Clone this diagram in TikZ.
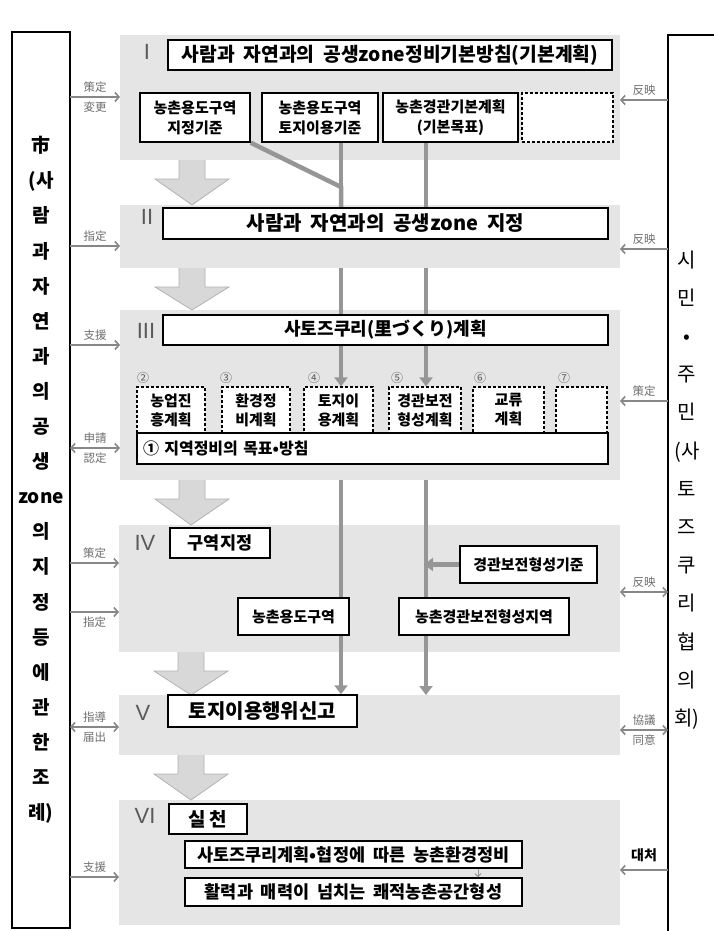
\documentclass[tikz,border=0pt]{standalone}
\usepackage{fontspec}
\setmainfont{Noto Sans CJK KR}
\newfontfamily\jpfont{Noto Sans CJK JP}
\newfontfamily\latfont{Liberation Sans}
\usetikzlibrary{arrows.meta,calc}
\pgfdeclarelayer{bg}
\pgfdeclarelayer{mid}
\pgfsetlayers{bg,mid,main}
\definecolor{panelgray}{RGB}{229,229,229}
\definecolor{conngray}{RGB}{150,150,150}
\definecolor{bafill}{RGB}{216,216,216}
\definecolor{baedge}{RGB}{178,178,178}
\definecolor{sidegray}{RGB}{135,135,135}
\definecolor{lblgray}{RGB}{110,110,110}
\definecolor{numgray}{RGB}{90,90,90}
\tikzset{
  panelbox/.style={fill=panelgray, draw=none, inner sep=0pt, outer sep=0pt, anchor=north west},
  solidbox/.style={draw=black, line width=1.5pt, fill=white, inner sep=0pt, align=center, font=\bfseries\fontsize{15}{20}\selectfont},
  titlebox/.style={solidbox, font=\bfseries\fontsize{20}{22}\selectfont},
  dashbox/.style={draw=black, line width=1.2pt, dash pattern=on 3pt off 2pt, fill=white, inner sep=0pt, align=center, font=\bfseries\fontsize{15}{19}\selectfont},
  outerbox/.style={draw=black, line width=2pt, fill=white, inner sep=0pt, outer sep=0pt, anchor=north west},
  roman/.style={font=\latfont\fontsize{22}{22}\selectfont, text=numgray, inner sep=0pt},
  circnum/.style={font=\fontsize{12}{12}\selectfont, text=numgray, inner sep=0pt},
  connline/.style={draw=conngray, line width=4.5pt},
  connarrow/.style={connline, -{Triangle[length=9pt, width=13pt]}},
  blockarr/.style={fill=bafill, draw=baedge, line width=0.8pt},
  sidearr/.style={draw=sidegray, line width=1.6pt, -{Straight Barb[length=4pt,width=9pt]}},
  sidearrtwo/.style={draw=sidegray, line width=1.6pt, {Straight Barb[length=4pt,width=9pt]}-{Straight Barb[length=4pt,width=9pt]}},
  smallarr/.style={draw=conngray, line width=1pt, -{Straight Barb[length=3pt,width=6pt]}},
  jplbl/.style={font=\jpfont\fontsize{11.5}{12}\selectfont, text=lblgray, inner sep=2pt},
}
\newcommand\mkblockarrow[2]{%
  \path (#1.south west) ++(59,0) coordinate (ba) (#2.north west) ++(72,0) coordinate (bt);
  \filldraw[blockarr] (ba) -- ($(ba)+(0,19)$) -- ($(ba)+(-24,19)$) -- (bt) -- ($(ba)+(50,19)$) -- ($(ba)+(26,19)$) -- ($(ba)+(26,0)$);
}
\newcommand\wsp{\hspace{0.45em}}
\begin{document}
\begin{tikzpicture}[x=1pt,y=-1pt]
\useasboundingbox (0,0) rectangle (714,931);
\begin{pgfonlayer}{bg}
  \fill[white] (0,0) rectangle (714,931);
  \node[panelbox, minimum width=500pt, minimum height=125pt] (p1) at (120,35) {};
  \node[panelbox, minimum width=500pt, minimum height=63pt] (p2) at (120,205) {};
  \node[panelbox, minimum width=500pt, minimum height=170pt] (p3) at (120,310) {};
  \node[panelbox, minimum width=501pt, minimum height=127pt] (p4) at (119,525) {};
  \node[panelbox, minimum width=501pt, minimum height=60pt] (p5) at (119,695) {};
  \node[panelbox, minimum width=501pt, minimum height=125pt] (p6) at (119,800) {};
\end{pgfonlayer}

% outer boxes
\node[outerbox, minimum width=58pt, minimum height=896pt, align=center,
      font=\bfseries\fontsize{19}{35.1}\selectfont] (L) at (12,32)
  {市\\(사\\람\\과\\자\\연\\과\\의\\공\\생\\zone\\의\\지\\정\\등\\에\\관\\한\\조\\례)};
\node[outerbox, minimum width=90pt, minimum height=910pt,
      label={[font=\fontsize{20}{38.2}\selectfont, align=center, xshift=-26pt]center:시\\민\\•\\주\\민\\(사\\토\\즈\\쿠\\리\\협\\의\\회)}] (R) at (668,35) {};

% roman numerals
\node[roman] (r1) at (147,52) {I};
\node[roman] (r2) at (147,217) {II};
\node[roman] (r3) at (146,331) {III};
\node[roman] (r4) at (145,543) {IV};
\node[roman] (r5) at (143,713) {V};
\node[roman] (r6) at (145,816) {VI};

% section I
\node[titlebox, minimum width=444pt, minimum height=30pt, font=\bfseries\fontsize{19.3}{22}\selectfont] (t1) at (390,55) {사람과\wsp 자연과의\wsp 공생zone정비기본방침(기본계획)};
\node[solidbox, minimum width=110pt, minimum height=49pt] (b11) at (195,117.5) {농촌용도구역\\지정기준};
\node[solidbox, minimum width=116pt, minimum height=49pt] (b12) at (320,117.5) {농촌용도구역\\토지이용기준};
\node[solidbox, minimum width=135pt, minimum height=49pt] (b13) at (450.5,117.5) {농촌경관기본계획\\(기본목표)};
\node[dashbox, minimum width=91pt, minimum height=49pt] (b14) at (567.5,117.5) {};

% section II
\node[titlebox, minimum width=445pt, minimum height=31pt] (t2) at (385.5,223.5) {사람과\wsp 자연과의\wsp 공생zone\wsp 지정};

% section III
\node[titlebox, minimum width=445pt, minimum height=30pt, font=\bfseries\fontsize{18}{22}\selectfont] (t3) at (385.5,330) {사토즈쿠리(里づくり)계획};
\node[dashbox, minimum width=68pt, minimum height=46pt] (d2) at (171,410) {농업진\\흥계획};
\node[dashbox, minimum width=68pt, minimum height=46pt] (d3) at (256,410) {환경정\\비계획};
\node[dashbox, minimum width=69pt, minimum height=46pt] (d4) at (338.5,410) {토지이\\용계획};
\node[dashbox, minimum width=72pt, minimum height=46pt] (d5) at (425,410) {경관보전\\형성계획};
\node[dashbox, minimum width=71pt, minimum height=46pt] (d6) at (508.5,410) {교류\\계획};
\node[dashbox, minimum width=51pt, minimum height=46pt] (d7) at (581.5,410) {};
\node[circnum] (n2) at (143,378) {②};
\node[circnum] (n3) at (226,378) {③};
\node[circnum] (n4) at (314,378) {④};
\node[circnum] (n5) at (397,378) {⑤};
\node[circnum] (n6) at (480,378) {⑥};
\node[circnum] (n7) at (564,378) {⑦};
\node[solidbox, text width=459pt, inner xsep=6pt, minimum height=31pt, align=left,
      font=\bfseries\fontsize{16}{20}\selectfont] (g1) at (372.5,448.5) {① 지역정비의 목표•방침};

% section IV
\node[titlebox, minimum width=100pt, minimum height=30pt, font=\bfseries\fontsize{17.5}{20}\selectfont] (iv) at (220,543) {구역지정};
\node[solidbox, minimum width=137pt, minimum height=37pt] (k1) at (528.5,564.5) {경관보전형성기준};
\node[solidbox, minimum width=111pt, minimum height=37pt] (k2) at (293.5,616.5) {농촌용도구역};
\node[solidbox, minimum width=170pt, minimum height=37pt] (k3) at (484,616.5) {농촌경관보전형성지역};

% section V
\node[titlebox, minimum width=189pt, minimum height=32pt, font=\bfseries\fontsize{20}{22}\selectfont] (v1) at (262.5,711) {토지이용행위신고};

% section VI
\node[titlebox, minimum width=78pt, minimum height=30pt, font=\bfseries\fontsize{19}{22}\selectfont] (s1) at (208,819) {실\hspace{0.2em}천};
\node[solidbox, minimum width=337pt, minimum height=27pt, font=\bfseries\fontsize{17.5}{20}\selectfont] (e1) at (353.5,854.5) {사토즈쿠리계획•협정에\wsp 따른\wsp 농촌환경정비};
\node[solidbox, minimum width=337pt, minimum height=28pt, font=\bfseries\fontsize{17.5}{20}\selectfont] (e2) at (353.5,892) {활력과\wsp 매력이\wsp 넘치는\wsp 쾌적농촌공간형성};

% connectors (behind boxes)
\begin{pgfonlayer}{mid}
  \coordinate (la) at (341,0);
  \coordinate (lb) at (426,0);
  \coordinate (bend) at (341,187);
  \draw[connline] (b11.south east) -- (bend) -- (bend |- t2.north);
  \draw[connline] (la |- b12.south) -- (la |- t2.north);
  \draw[connline] (lb |- b13.south) -- (lb |- t2.north);
  \draw[connarrow] (la |- p2.south) -- (la |- d4.north);
  \draw[connarrow] (lb |- p2.south) -- (lb |- d5.north);
  \draw[connarrow] (la |- p3.south) -- (la |- v1.north);
  \draw[connarrow] (lb |- p3.south) -- (lb |- p5.north);
  \draw[connarrow, shorten >=-2pt] (k1.west) -- (lb |- k1.west);
  \mkblockarrow{p1}{p2}
  \mkblockarrow{p2}{p3}
  \mkblockarrow{p3}{p4}
  \mkblockarrow{p4}{p5}
  \mkblockarrow{p5}{p6}
\end{pgfonlayer}
\draw[smallarr] ([xshift=124.5pt]e1.south) -- ([xshift=124.5pt]e2.north);

% left side arrows
\coordinate (yl1) at (0,97);
\coordinate (yl2) at (0,246);
\coordinate (yl3) at (0,345);
\coordinate (yl4) at (0,448);
\coordinate (yl5) at (0,563);
\coordinate (yl6) at (0,612);
\coordinate (yl7) at (0,727);
\coordinate (yl8) at (0,877);
\draw[sidearr] (L.east |- yl1) -- (p1.west |- yl1) node[jplbl, midway, above=2pt] {策定} node[jplbl, midway, below=2pt] {変更};
\draw[sidearr] (L.east |- yl2) -- (p2.west |- yl2) node[jplbl, midway, above=2pt] {指定};
\draw[sidearr] (L.east |- yl3) -- (p3.west |- yl3) node[jplbl, midway, above=2pt] {支援};
\draw[sidearrtwo] (L.east |- yl4) -- (p3.west |- yl4) node[jplbl, midway, above=2pt] {申請} node[jplbl, midway, below=2pt] {認定};
\draw[sidearr] (L.east |- yl5) -- (p4.west |- yl5) node[jplbl, midway, above=2pt] {策定};
\draw[sidearr] (L.east |- yl6) -- (p4.west |- yl6) node[jplbl, midway, below=2pt] {指定};
\draw[sidearrtwo] (L.east |- yl7) -- (p5.west |- yl7) node[jplbl, midway, above=2pt] {指導} node[jplbl, midway, below=2pt] {届出};
\draw[sidearr] (L.east |- yl8) -- (p6.west |- yl8) node[jplbl, midway, above=2pt] {支援};

% right side arrows
\coordinate (yr1) at (0,100);
\coordinate (yr2) at (0,249);
\coordinate (yr3) at (0,401);
\coordinate (yr4) at (0,592);
\coordinate (yr5) at (0,730);
\coordinate (yr6) at (0,870);
\draw[sidearr] (R.west |- yr1) -- (p1.east |- yr1) node[jplbl, midway, above=2pt] {反映};
\draw[sidearr] (R.west |- yr2) -- (p2.east |- yr2) node[jplbl, midway, above=2pt] {反映};
\draw[sidearr] (R.west |- yr3) -- (p3.east |- yr3) node[jplbl, midway, above=2pt] {策定};
\draw[sidearrtwo] (R.west |- yr4) -- (p4.east |- yr4) node[jplbl, midway, above=2pt] {反映};
\draw[sidearrtwo] (R.west |- yr5) -- (p5.east |- yr5) node[jplbl, midway, above=2pt] {協議} node[jplbl, midway, below=2pt] {同意};
\draw[sidearr] (R.west |- yr6) -- (p6.east |- yr6) node[midway, above=7pt, inner sep=0pt, font=\bfseries\fontsize{14}{14}\selectfont] {대처};
\end{tikzpicture}
\end{document}
